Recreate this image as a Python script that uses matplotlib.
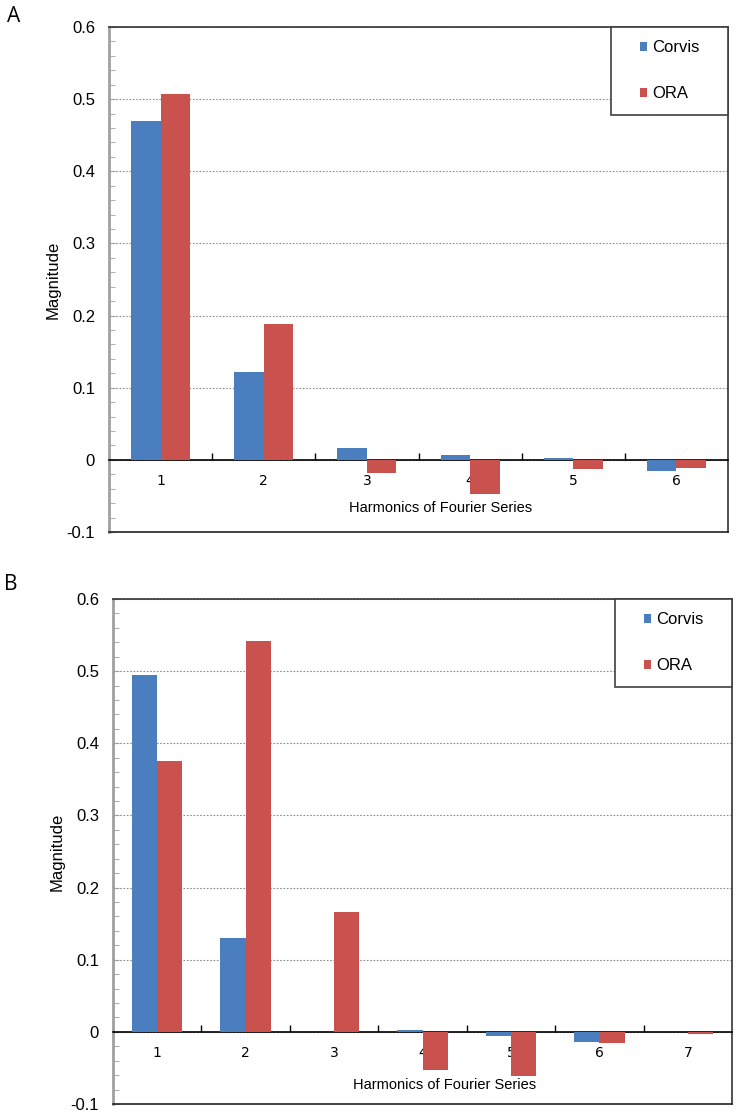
import matplotlib.pyplot as plt
from matplotlib.patches import Rectangle

# panel A
harm_a = [1, 2, 3, 4, 5, 6]
corvis_a = [0.470, 0.122, 0.016, 0.007, 0.003, -0.015]
ora_a = [0.507, 0.188, -0.018, -0.047, -0.013, -0.012]

# panel B
harm_b = [1, 2, 3, 4, 5, 6, 7]
corvis_b = [0.494, 0.130, 0.0, 0.002, -0.006, -0.014, 0.0]
ora_b = [0.376, 0.542, 0.166, -0.053, -0.061, -0.015, -0.003]

yticks = [-0.1, 0, 0.1, 0.2, 0.3, 0.4, 0.5, 0.6]
ylabels = ['-0.1', '0', '0.1', '0.2', '0.3', '0.4', '0.5', '0.6']

BLUE = '#4A7EBF'
RED = '#C9524F'
FONT = 'Liberation Sans'


def panel(ax, harm, corvis, ora, xlab_y):
    n = len(harm)
    w = 0.286
    x = list(range(1, n + 1))
    ax.bar([i - w / 2 for i in x], corvis, w, color=BLUE, label='Corvis', zorder=3)
    ax.bar([i + w / 2 for i in x], ora, w, color=RED, label='ORA', zorder=3)

    ax.set_xlim(0.5, n + 0.5)
    ax.set_ylim(-0.1, 0.6)
    ax.set_yticks(yticks)
    ax.set_yticklabels(ylabels, fontsize=12, family=FONT)
    ax.set_yticks([v / 100 for v in range(-10, 61, 2)], minor=True)
    ax.tick_params(axis='y', which='both', direction='in', length=4,
                   color='#A0A0A0', pad=10)

    ax.set_xticks(x)
    ax.set_xticklabels([str(h) for h in harm], fontsize=12, family=FONT)
    ax.set_xticks([i + 0.5 for i in x[:-1]], minor=True)
    ax.tick_params(axis='x', which='major', length=0, pad=10)
    ax.tick_params(axis='x', which='minor', direction='in', length=5,
                   color='black', width=1)

    ax.yaxis.grid(True, linestyle=(0, (1.5, 1.5)), color='#8C8C8C', lw=0.8)
    ax.set_axisbelow(True)

    ax.spines['bottom'].set_position(('data', 0))
    ax.spines['bottom'].set_color('black')
    ax.spines['bottom'].set_linewidth(1.2)
    ax.spines['left'].set_color('#A0A0A0')
    ax.spines['left'].set_linewidth(2)
    for s in ['top', 'right']:
        ax.spines[s].set_color('#333333')
        ax.spines[s].set_linewidth(1.2)
    ax.axhline(-0.1, color='#222222', lw=1.2, clip_on=False, zorder=4)

    ax.set_ylabel('Magnitude', fontsize=12, family=FONT)
    ax.yaxis.set_label_coords(-0.0775, 0.5)
    ax.set_xlabel('Harmonics of Fourier Series', fontsize=10.5, family=FONT)
    ax.xaxis.set_label_coords(0.536, xlab_y)

    box = Rectangle((0.811, 0.826), 0.189, 0.174, transform=ax.transAxes,
                    facecolor='white', edgecolor='#404040', lw=1.2,
                    zorder=5, clip_on=False)
    ax.add_patch(box)
    leg = ax.legend(loc='center', bbox_to_anchor=(0.9055, 0.913),
                    frameon=False, handlelength=0.45, handleheight=0.45,
                    handletextpad=0.3, labelspacing=1.85,
                    prop={'family': FONT, 'size': 12})
    leg.set_zorder(6)


fig = plt.figure(figsize=(7.38, 11.15), dpi=100)
ax1 = fig.add_axes([0.1477, 0.5229, 0.8388, 0.4529])
ax2 = fig.add_axes([0.1531, 0.0099, 0.8388, 0.4529])

panel(ax1, harm_a, corvis_a, ora_a, 0.061)
panel(ax2, harm_b, corvis_b, ora_b, 0.0515)

fig.text(7 / 738, 1 - 16 / 1115, 'A', fontsize=15, family='Open Sans',
         ha='left', va='center')
fig.text(4 / 738, 1 - 584 / 1115, 'B', fontsize=15, family='Open Sans',
         ha='left', va='center')

fig.savefig('out.png', dpi=100)
